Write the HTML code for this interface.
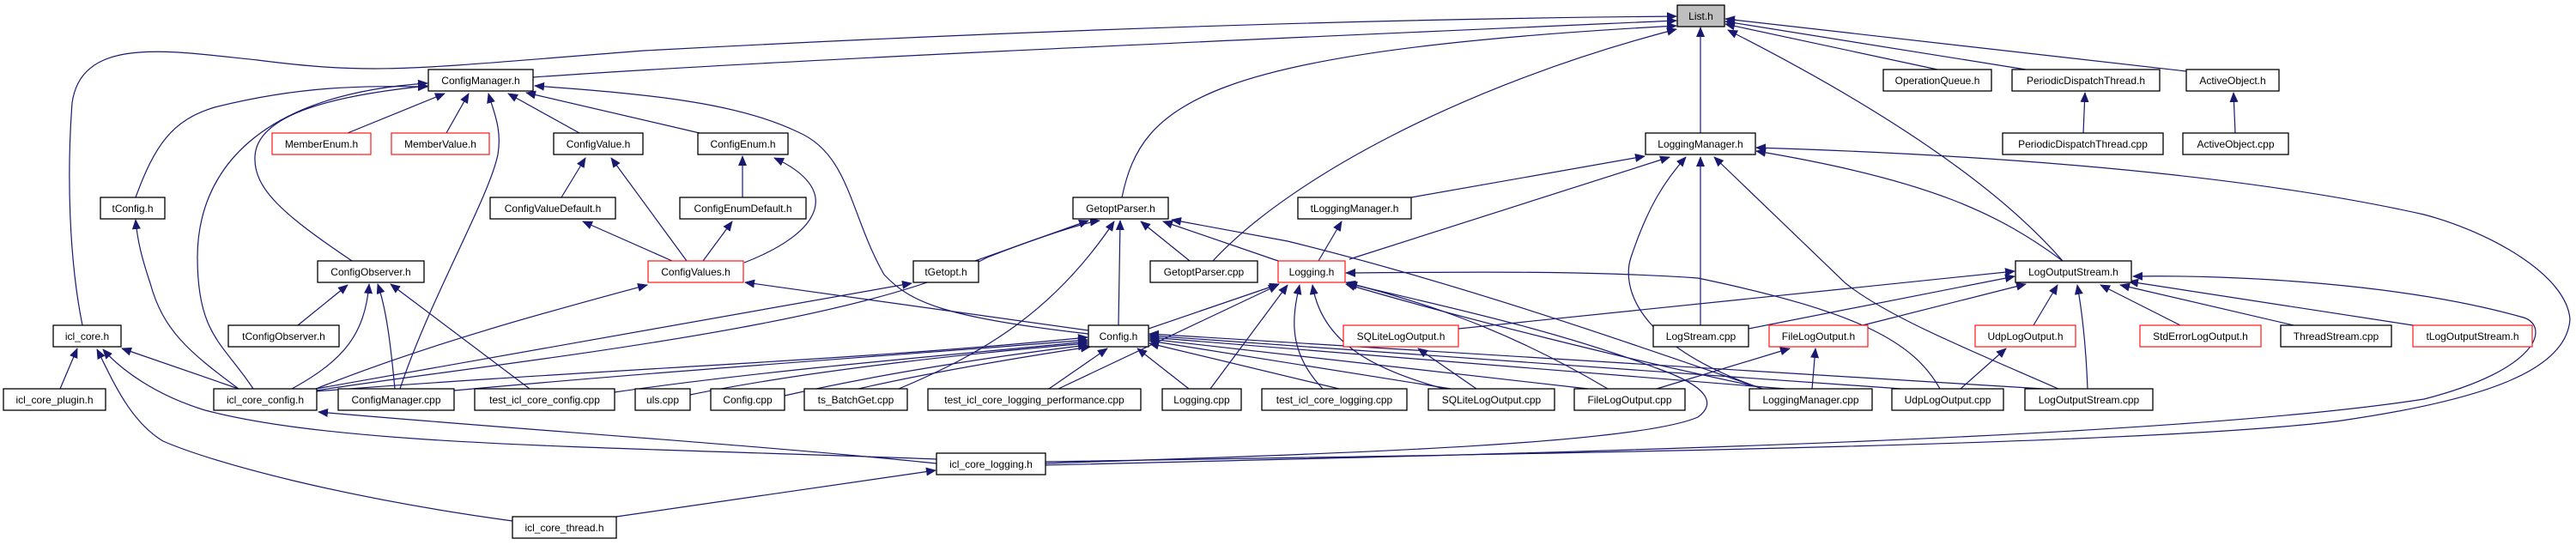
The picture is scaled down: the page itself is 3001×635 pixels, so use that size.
<!DOCTYPE html>
<html><head><meta charset="utf-8"><style>
html,body{margin:0;padding:0;background:#fff;}
svg{display:block;}
text{font-family:"Liberation Sans",sans-serif;font-size:12px;fill:#000;}
.e{fill:none;stroke:#191970;stroke-width:1.2;marker-end:url(#a);}
.n{fill:#fff;stroke:#000;stroke-width:1.3;}
.r{fill:#fff;stroke:#f00;stroke-width:1.1;}
</style></head><body>
<svg width="3001" height="635" viewBox="0 0 3001 635" xmlns="http://www.w3.org/2000/svg">
<defs><marker id="a" markerWidth="12" markerHeight="10" refX="11" refY="5" orient="auto" markerUnits="userSpaceOnUse"><path d="M0,0 L12,5 L0,10 z" fill="#191970"/></marker></defs>
<g>
<path class="e" d="M621,90 C900,70 1500,44 1953,24"/>
<path class="e" d="M96,379 C80,300 78,200 84,120 C95,40 200,60 300,70 C440,88 480,80 750,59 C1200,35 1600,22 1953,19"/>
<path class="e" d="M1307,230 C1330,120 1400,60 1953,30"/>
<path class="e" d="M1413,304 C1500,210 1700,100 1953,34"/>
<path class="e" d="M1981,155 L1981,32"/>
<path class="e" d="M2257,81 L2010,28"/>
<path class="e" d="M2360,81 L2010,25"/>
<path class="e" d="M2547,83 L2010,22"/>
<path class="e" d="M2403,304 C2330,220 2200,130 2013,35"/>
<path class="e" d="M158,230 C180,170 200,140 250,125 C350,100 420,100 498,101"/>
<path class="e" d="M295,453 C260,400 230,390 230,300 C230,200 300,110 498,97"/>
<path class="e" d="M410,304 C330,250 295,220 297,182 C300,130 400,110 498,100"/>
<path class="e" d="M405,155 L518,109"/>
<path class="e" d="M520,155 L546,109"/>
<path class="e" d="M466,453 C500,350 570,230 580,180 C585,150 575,130 569,109"/>
<path class="e" d="M675,155 L592,109"/>
<path class="e" d="M815,155 L613,108"/>
<path class="e" d="M1268,389 C1100,370 1060,352 1030,320 C990,250 990,180 930,154 C860,120 760,110 623,100"/>
<path class="e" d="M654,230 L682,184"/>
<path class="e" d="M800,304 L712,184"/>
<path class="e" d="M865,230 L865,182"/>
<path class="e" d="M867,306 C960,270 980,220 902,184"/>
<path class="e" d="M783,304 L679,258"/>
<path class="e" d="M819,304 L853,258"/>
<path class="e" d="M1268,385 L868,329"/>
<path class="e" d="M368,453 C500,400 650,360 754,332"/>
<path class="e" d="M347,379 L405,332"/>
<path class="e" d="M340,453 C400,420 425,390 430,331"/>
<path class="e" d="M460,453 C455,400 450,360 440,331"/>
<path class="e" d="M617,453 L455,331"/>
<path class="e" d="M278,453 C220,410 190,385 175,330 C165,300 160,280 158,256"/>
<path class="e" d="M70,453 L90,406"/>
<path class="e" d="M278,453 L142,406"/>
<path class="e" d="M1091,535 C700,520 400,520 239,478 C180,460 140,430 120,407"/>
<path class="e" d="M597,607 C400,580 250,540 190,514 C150,490 130,440 113,407"/>
<path class="e" d="M1091,540 C900,520 600,500 371,480"/>
<path class="e" d="M368,453 L1062,330"/>
<path class="e" d="M368,455 C600,420 1000,380 1150,300 C1200,280 1260,260 1281,257"/>
<path class="e" d="M368,456 C700,430 1000,420 1267,393"/>
<path class="e" d="M529,455 C800,430 1100,410 1267,396"/>
<path class="e" d="M716,457 C900,430 1150,410 1267,398"/>
<path class="e" d="M804,460 C950,430 1150,410 1267,400"/>
<path class="e" d="M914,461 C1050,430 1200,410 1267,402"/>
<path class="e" d="M1000,453 C1100,430 1230,410 1270,404"/>
<path class="e" d="M1222,453 L1290,406"/>
<path class="e" d="M1385,453 L1325,406"/>
<path class="e" d="M1560,453 L1339,400"/>
<path class="e" d="M1690,453 L1339,397"/>
<path class="e" d="M1850,453 L1339,395"/>
<path class="e" d="M2080,453 L1339,393"/>
<path class="e" d="M2215,453 L1339,391"/>
<path class="e" d="M2380,453 L1339,389"/>
<path class="e" d="M1303,379 L1305,257"/>
<path class="e" d="M1136,304 L1268,257"/>
<path class="e" d="M1047,453 C1150,410 1230,360 1298,258"/>
<path class="e" d="M1386,304 L1329,258"/>
<path class="e" d="M1489,304 L1355,258"/>
<path class="e" d="M2053,453 C1900,400 1700,330 1500,281 L1365,256"/>
<path class="e" d="M1338,383 L1490,331"/>
<path class="e" d="M1233,453 L1489,332"/>
<path class="e" d="M1410,453 L1500,332"/>
<path class="e" d="M1541,453 C1500,410 1505,370 1514,332"/>
<path class="e" d="M1682,453 C1600,430 1540,400 1529,332"/>
<path class="e" d="M1873,453 C1750,380 1650,350 1568,329"/>
<path class="e" d="M2050,451 C1900,420 1700,370 1568,331"/>
<path class="e" d="M2260,453 C2230,400 2170,364 1978,324 C1850,315 1700,317 1568,318"/>
<path class="e" d="M1218,540 C1500,530 1900,520 1978,486 C2000,470 1990,450 1930,429 C1800,380 1650,350 1570,330"/>
<path class="e" d="M1644,230 L1916,182"/>
<path class="e" d="M1572,302 L1945,183"/>
<path class="e" d="M1536,304 L1563,258"/>
<path class="e" d="M2053,453 C1900,400 1890,330 1900,300 C1920,240 1940,210 1964,183"/>
<path class="e" d="M1981,379 L1981,183"/>
<path class="e" d="M2398,453 C2300,410 2200,370 2150,330 L1997,183"/>
<path class="e" d="M2403,304 C2330,250 2250,210 2046,176"/>
<path class="e" d="M1218,538 C1700,530 2500,520 2728,490 C2900,465 2990,430 2994,372 C2990,320 2900,270 2824,250 C2600,200 2300,180 2046,172"/>
<path class="e" d="M1218,542 C1700,530 2500,515 2824,465 C2960,430 2970,380 2940,370 C2800,330 2600,320 2485,322"/>
<path class="e" d="M1699,383 L2347,316"/>
<path class="e" d="M2037,383 L2347,322"/>
<path class="e" d="M2170,379 L2360,331"/>
<path class="e" d="M2369,379 L2397,332"/>
<path class="e" d="M2432,453 C2430,400 2425,360 2420,332"/>
<path class="e" d="M2540,379 L2447,332"/>
<path class="e" d="M2672,379 L2470,332"/>
<path class="e" d="M2811,379 L2480,328"/>
<path class="e" d="M1720,453 L1652,406"/>
<path class="e" d="M1930,453 L2085,406"/>
<path class="e" d="M2111,453 L2115,406"/>
<path class="e" d="M2284,453 L2337,406"/>
<path class="e" d="M2427,155 L2429,108"/>
<path class="e" d="M2604,155 L2602,108"/>
<path class="e" d="M718,602 L1090,548"/>
</g>
<g>
<rect x="1954" y="6" width="55" height="25" fill="#bfbfbf" stroke="#000" stroke-width="1.3"/><text x="1981.5" y="23" text-anchor="middle">List.h</text>
<rect class="n" x="499" y="81" width="122" height="25"/><text x="560" y="98" text-anchor="middle">ConfigManager.h</text>
<rect class="n" x="2194" y="81" width="126" height="25"/><text x="2257" y="98" text-anchor="middle">OperationQueue.h</text>
<rect class="n" x="2344" y="81" width="172" height="25"/><text x="2430" y="98" text-anchor="middle">PeriodicDispatchThread.h</text>
<rect class="n" x="2547" y="81" width="108" height="25"/><text x="2601" y="98" text-anchor="middle">ActiveObject.h</text>
<rect class="r" x="317" y="155" width="115" height="25"/><text x="374.5" y="172" text-anchor="middle">MemberEnum.h</text>
<rect class="r" x="456" y="155" width="114" height="25"/><text x="513" y="172" text-anchor="middle">MemberValue.h</text>
<rect class="n" x="645" y="155" width="104" height="25"/><text x="697" y="172" text-anchor="middle">ConfigValue.h</text>
<rect class="n" x="813" y="155" width="105" height="25"/><text x="865.5" y="172" text-anchor="middle">ConfigEnum.h</text>
<rect class="n" x="1917" y="155" width="128" height="25"/><text x="1981" y="172" text-anchor="middle">LoggingManager.h</text>
<rect class="n" x="2333" y="155" width="187" height="25"/><text x="2426.5" y="172" text-anchor="middle">PeriodicDispatchThread.cpp</text>
<rect class="n" x="2543" y="155" width="123" height="25"/><text x="2604.5" y="172" text-anchor="middle">ActiveObject.cpp</text>
<rect class="n" x="117" y="230" width="75" height="25"/><text x="154.5" y="247" text-anchor="middle">tConfig.h</text>
<rect class="n" x="571" y="230" width="146" height="25"/><text x="644" y="247" text-anchor="middle">ConfigValueDefault.h</text>
<rect class="n" x="792" y="230" width="147" height="25"/><text x="865.5" y="247" text-anchor="middle">ConfigEnumDefault.h</text>
<rect class="n" x="1250" y="230" width="111" height="25"/><text x="1305.5" y="247" text-anchor="middle">GetoptParser.h</text>
<rect class="n" x="1512" y="230" width="132" height="25"/><text x="1578" y="247" text-anchor="middle">tLoggingManager.h</text>
<rect class="n" x="370" y="304" width="124" height="25"/><text x="432" y="321" text-anchor="middle">ConfigObserver.h</text>
<rect class="r" x="755" y="304" width="111" height="25"/><text x="810.5" y="321" text-anchor="middle">ConfigValues.h</text>
<rect class="n" x="1064" y="304" width="76" height="25"/><text x="1102" y="321" text-anchor="middle">tGetopt.h</text>
<rect class="n" x="1340" y="304" width="125" height="25"/><text x="1402.5" y="321" text-anchor="middle">GetoptParser.cpp</text>
<rect class="r" x="1489" y="304" width="78" height="25"/><text x="1528" y="321" text-anchor="middle">Logging.h</text>
<rect class="n" x="2348" y="304" width="135" height="25"/><text x="2415.5" y="321" text-anchor="middle">LogOutputStream.h</text>
<rect class="n" x="62" y="379" width="79" height="25"/><text x="101.5" y="396" text-anchor="middle">icl_core.h</text>
<rect class="n" x="266" y="379" width="129" height="25"/><text x="330.5" y="396" text-anchor="middle">tConfigObserver.h</text>
<rect class="n" x="1268" y="379" width="70" height="25"/><text x="1303" y="396" text-anchor="middle">Config.h</text>
<rect class="r" x="1565" y="379" width="134" height="25"/><text x="1632" y="396" text-anchor="middle">SQLiteLogOutput.h</text>
<rect class="n" x="1926" y="379" width="111" height="25"/><text x="1981.5" y="396" text-anchor="middle">LogStream.cpp</text>
<rect class="r" x="2061" y="379" width="115" height="25"/><text x="2118.5" y="396" text-anchor="middle">FileLogOutput.h</text>
<rect class="r" x="2301" y="379" width="117" height="25"/><text x="2359.5" y="396" text-anchor="middle">UdpLogOutput.h</text>
<rect class="r" x="2493" y="379" width="141" height="25"/><text x="2563.5" y="396" text-anchor="middle">StdErrorLogOutput.h</text>
<rect class="n" x="2657" y="379" width="129" height="25"/><text x="2721.5" y="396" text-anchor="middle">ThreadStream.cpp</text>
<rect class="r" x="2811" y="379" width="139" height="25"/><text x="2880.5" y="396" text-anchor="middle">tLogOutputStream.h</text>
<rect class="n" x="4" y="453" width="119" height="25"/><text x="63.5" y="470" text-anchor="middle">icl_core_plugin.h</text>
<rect class="n" x="249" y="453" width="120" height="25"/><text x="309" y="470" text-anchor="middle">icl_core_config.h</text>
<rect class="n" x="394" y="453" width="135" height="25"/><text x="461.5" y="470" text-anchor="middle">ConfigManager.cpp</text>
<rect class="n" x="553" y="453" width="163" height="25"/><text x="634.5" y="470" text-anchor="middle">test_icl_core_config.cpp</text>
<rect class="n" x="740" y="453" width="64" height="25"/><text x="772" y="470" text-anchor="middle">uls.cpp</text>
<rect class="n" x="828" y="453" width="86" height="25"/><text x="871" y="470" text-anchor="middle">Config.cpp</text>
<rect class="n" x="937" y="453" width="120" height="25"/><text x="997" y="470" text-anchor="middle">ts_BatchGet.cpp</text>
<rect class="n" x="1081" y="453" width="248" height="25"/><text x="1205" y="470" text-anchor="middle">test_icl_core_logging_performance.cpp</text>
<rect class="n" x="1354" y="453" width="92" height="25"/><text x="1400" y="470" text-anchor="middle">Logging.cpp</text>
<rect class="n" x="1470" y="453" width="169" height="25"/><text x="1554.5" y="470" text-anchor="middle">test_icl_core_logging.cpp</text>
<rect class="n" x="1664" y="453" width="147" height="25"/><text x="1737.5" y="470" text-anchor="middle">SQLiteLogOutput.cpp</text>
<rect class="n" x="1834" y="453" width="129" height="25"/><text x="1898.5" y="470" text-anchor="middle">FileLogOutput.cpp</text>
<rect class="n" x="2038" y="453" width="143" height="25"/><text x="2109.5" y="470" text-anchor="middle">LoggingManager.cpp</text>
<rect class="n" x="2204" y="453" width="130" height="25"/><text x="2269" y="470" text-anchor="middle">UdpLogOutput.cpp</text>
<rect class="n" x="2359" y="453" width="149" height="25"/><text x="2433.5" y="470" text-anchor="middle">LogOutputStream.cpp</text>
<rect class="n" x="1091" y="528" width="127" height="25"/><text x="1154.5" y="545" text-anchor="middle">icl_core_logging.h</text>
<rect class="n" x="597" y="602" width="121" height="25"/><text x="657.5" y="619" text-anchor="middle">icl_core_thread.h</text>
</g>
</svg>
</body></html>
